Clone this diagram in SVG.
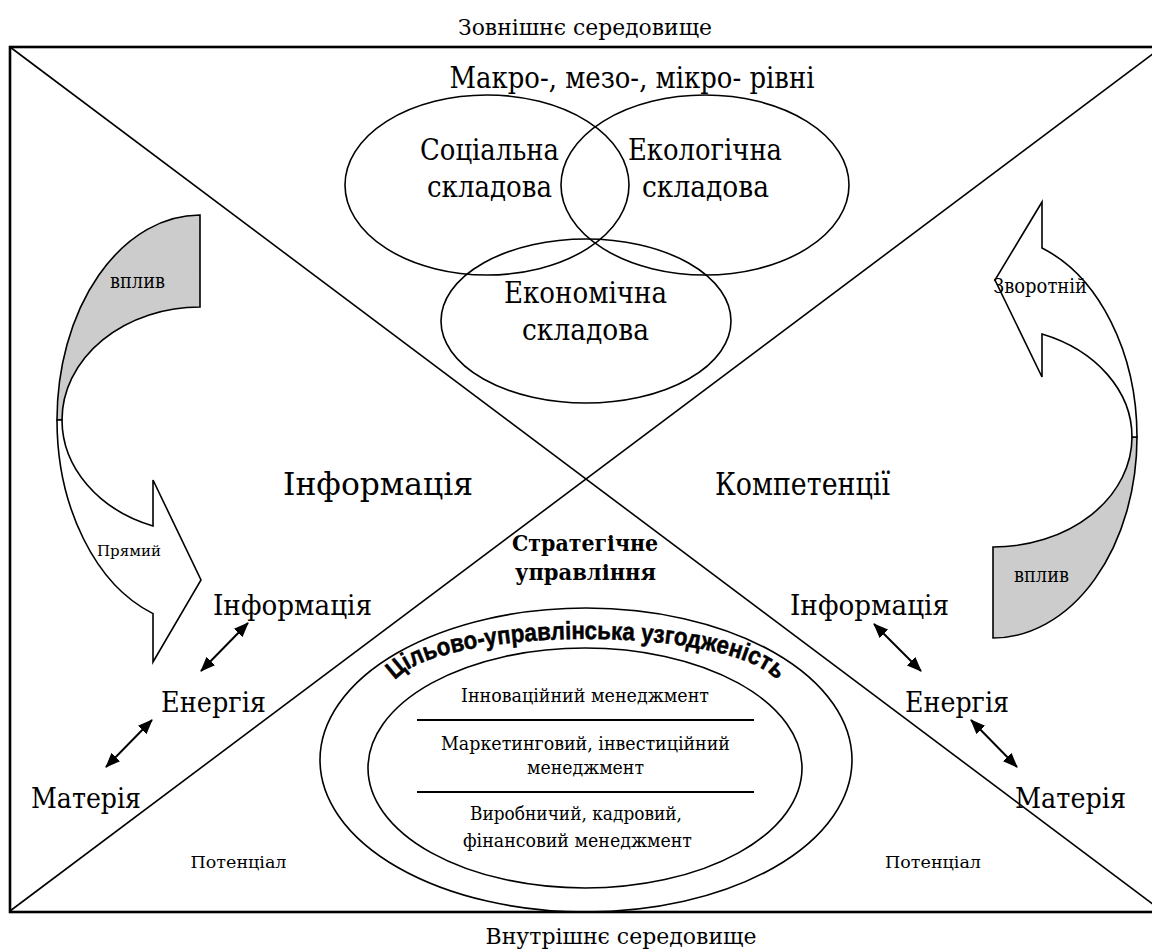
<svg xmlns="http://www.w3.org/2000/svg" width="1152" height="949" viewBox="0 0 1152 949">
<style>
.t{font-family:"DejaVu Serif","Liberation Serif",serif;fill:#000}
.b{font-weight:bold}
.s{stroke:#000;stroke-width:1.6;fill:none}
.w{stroke:#000;stroke-width:1.6;fill:#fff}
.g{stroke:#000;stroke-width:1.6;fill:#cccccc}
.arc{font-family:"Liberation Sans",Arial,sans-serif;font-weight:bold;font-size:25px;fill:#000;stroke:#000;stroke-width:0.5}
.c{stroke:#000;stroke-width:2;fill:none}
</style>
<defs>
<marker id="ah" markerUnits="userSpaceOnUse" markerWidth="16" markerHeight="12" refX="14" refY="6" orient="auto-start-reverse">
<path d="M0,0 L15,6 L0,12 z" fill="#000"/>
</marker>
<path id="arcPath" d="M392,690 A194,51 0 0 1 780,690"/>
</defs>
<rect width="1152" height="949" fill="#fff"/>

<g id="frame">
<rect x="10" y="47" width="1160" height="865" fill="none" stroke="#000" stroke-width="2.6"/>
<line x1="10" y1="47" x2="1162" y2="911" class="s"/>
<line x1="10" y1="911" x2="1162" y2="47" class="s"/>
</g>

<g id="labels-env">
<text class="t" x="585" y="35" font-size="23" text-anchor="middle" textLength="254" lengthAdjust="spacingAndGlyphs">Зовнішнє середовище</text>
<text class="t" x="621" y="944" font-size="22" text-anchor="middle" textLength="271" lengthAdjust="spacingAndGlyphs">Внутрішнє середовище</text>
<text class="t" x="632" y="88" font-size="29" text-anchor="middle" textLength="365" lengthAdjust="spacingAndGlyphs">Макро-, мезо-, мікро- рівні</text>
</g>

<g id="social">
<ellipse cx="487" cy="185" rx="142" ry="90" class="s"/>
<text class="t" x="489.5" y="160" font-size="30" text-anchor="middle" textLength="139" lengthAdjust="spacingAndGlyphs">Соціальна</text>
<text class="t" x="489.5" y="197" font-size="30" text-anchor="middle" textLength="125" lengthAdjust="spacingAndGlyphs">складова</text>
</g>
<g id="ecological">
<ellipse cx="705" cy="185" rx="144" ry="90" class="s"/>
<text class="t" x="705" y="160" font-size="30" text-anchor="middle" textLength="154" lengthAdjust="spacingAndGlyphs">Екологічна</text>
<text class="t" x="705.5" y="197" font-size="30" text-anchor="middle" textLength="127" lengthAdjust="spacingAndGlyphs">складова</text>
</g>
<g id="economic">
<ellipse cx="586" cy="321" rx="145" ry="82" class="s"/>
<text class="t" x="585.5" y="303" font-size="30" text-anchor="middle" textLength="163" lengthAdjust="spacingAndGlyphs">Економічна</text>
<text class="t" x="585.5" y="340" font-size="30" text-anchor="middle" textLength="127" lengthAdjust="spacingAndGlyphs">складова</text>
</g>

<g id="quadrant-labels">
<text class="t" x="378" y="495" font-size="31" text-anchor="middle" textLength="190" lengthAdjust="spacingAndGlyphs">Інформація</text>
<text class="t" x="802.5" y="495" font-size="31" text-anchor="middle" textLength="175" lengthAdjust="spacingAndGlyphs">Компетенції</text>
<text class="t" x="238.5" y="868" font-size="17" text-anchor="middle" textLength="96" lengthAdjust="spacingAndGlyphs">Потенціал</text>
<text class="t" x="933" y="868" font-size="17" text-anchor="middle" textLength="96" lengthAdjust="spacingAndGlyphs">Потенціал</text>
</g>

<g id="strategic">
<text class="t b" x="585" y="551" font-size="23" text-anchor="middle" textLength="146" lengthAdjust="spacingAndGlyphs">Стратегічне</text>
<text class="t b" x="585.5" y="580" font-size="23" text-anchor="middle" textLength="141" lengthAdjust="spacingAndGlyphs">управління</text>
</g>

<g id="coherence">
<ellipse cx="586" cy="760" rx="266" ry="152" class="s"/>
<text class="arc"><textPath href="#arcPath" startOffset="50%" text-anchor="middle" textLength="398" lengthAdjust="spacingAndGlyphs">Цільово-управлінська узгодженість</textPath></text>
</g>

<g id="management">
<ellipse cx="585" cy="768" rx="217" ry="120" class="s"/>
<line x1="417" y1="720" x2="754" y2="720" stroke="#000" stroke-width="2"/>
<line x1="417" y1="792" x2="754" y2="792" stroke="#000" stroke-width="2"/>
<text class="t" x="585" y="702" font-size="19" text-anchor="middle" textLength="248" lengthAdjust="spacingAndGlyphs">Інноваційний менеджмент</text>
<text class="t" x="585.5" y="750" font-size="19" text-anchor="middle" textLength="289" lengthAdjust="spacingAndGlyphs">Маркетинговий, інвестиційний</text>
<text class="t" x="585.5" y="774" font-size="19" text-anchor="middle" textLength="117" lengthAdjust="spacingAndGlyphs">менеджмент</text>
<text class="t" x="576" y="820" font-size="19" text-anchor="middle" textLength="212" lengthAdjust="spacingAndGlyphs">Виробничий, кадровий,</text>
<text class="t" x="577.5" y="847" font-size="19" text-anchor="middle" textLength="229" lengthAdjust="spacingAndGlyphs">фінансовий менеджмент</text>
</g>

<g id="direct-arrow">
<path class="g" d="M200,215 A143,205 0 0 0 57,420 L62,420 A138,113 0 0 1 200,307 Z"/>
<path class="w" d="M57,420 A143,205 0 0 0 153,613.6 L153,662 L201,580 L153,480 L153,526 A138,113 0 0 1 62,420 Z"/>
<text class="t" x="137.5" y="288" font-size="20" text-anchor="middle" textLength="55" lengthAdjust="spacingAndGlyphs">вплив</text>
<text class="t" x="129" y="556" font-size="15" text-anchor="middle" textLength="64" lengthAdjust="spacingAndGlyphs">Прямий</text>
</g>

<g id="feedback-arrow">
<path class="g" d="M1137,437 A144,201 0 0 1 993,638 L993,547 A139,110 0 0 0 1132,437 Z"/>
<path class="w" d="M1042,248 A144,201 0 0 1 1137,437 L1132,437 A139,110 0 0 0 1042,334 L1042,377 L995,280 L1042,202 Z"/>
<text class="t" x="1040" y="293" font-size="20" text-anchor="middle" textLength="94" lengthAdjust="spacingAndGlyphs">Зворотній</text>
<text class="t" x="1041.5" y="582" font-size="20" text-anchor="middle" textLength="55" lengthAdjust="spacingAndGlyphs">вплив</text>
</g>

<g id="left-triad">
<text class="t" x="292.5" y="615" font-size="27.5" text-anchor="middle" textLength="159" lengthAdjust="spacingAndGlyphs">Інформація</text>
<text class="t" x="213.5" y="712" font-size="27.5" text-anchor="middle" textLength="105" lengthAdjust="spacingAndGlyphs">Енергія</text>
<text class="t" x="86" y="808" font-size="27.5" text-anchor="middle" textLength="110" lengthAdjust="spacingAndGlyphs">Матерія</text>
</g>
<g id="right-triad">
<text class="t" x="869.5" y="615" font-size="27.5" text-anchor="middle" textLength="159" lengthAdjust="spacingAndGlyphs">Інформація</text>
<text class="t" x="957" y="712" font-size="27.5" text-anchor="middle" textLength="104" lengthAdjust="spacingAndGlyphs">Енергія</text>
<text class="t" x="1070.5" y="808" font-size="27.5" text-anchor="middle" textLength="111" lengthAdjust="spacingAndGlyphs">Матерія</text>
</g>

<g id="connectors">
<line class="c" x1="248" y1="623" x2="201" y2="671" marker-start="url(#ah)" marker-end="url(#ah)"/>
<line class="c" x1="152" y1="720" x2="106" y2="767" marker-start="url(#ah)" marker-end="url(#ah)"/>
<line class="c" x1="874" y1="624" x2="921" y2="671" marker-start="url(#ah)" marker-end="url(#ah)"/>
<line class="c" x1="971" y1="720" x2="1017" y2="767" marker-start="url(#ah)" marker-end="url(#ah)"/>
</g>
</svg>
